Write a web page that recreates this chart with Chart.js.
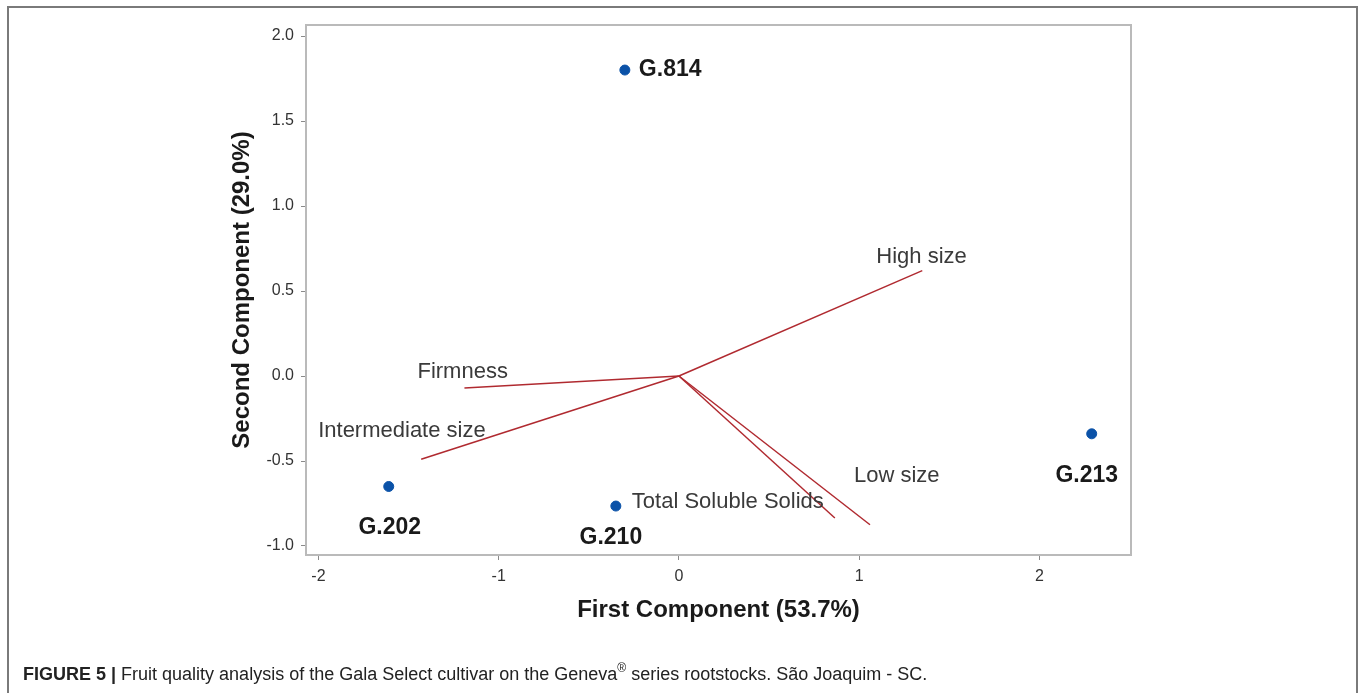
<!DOCTYPE html>
<html>
<head>
<meta charset="utf-8">
<title>Figure 5 - PCA</title>
<script src="https://cdn.jsdelivr.net/npm/chart.js@4/dist/chart.umd.min.js"></script>
<style>
  html, body { margin: 0; padding: 0; background: #fff; }
  #wrap { position: relative; width: 1360px; height: 693px; overflow: hidden; }
  #frame {
    position: absolute; left: 7px; top: 6px; width: 1347px; height: 700px;
    border-left: 2px solid #7a7a7a; border-top: 2px solid #7a7a7a; border-right: 2px solid #7a7a7a;
  }
  #chart { position: absolute; left: 0; top: 0; }
  #caption {
    position: absolute; left: 23px; top: 662px;
    font-family: "Liberation Sans", Arial, sans-serif; font-size: 18px; color: #222;
    white-space: nowrap; line-height: 24px;
  }
  #caption b { font-weight: bold; }
  #caption sup { font-size: 12px; line-height: 0; position: relative; top: -1px; }
</style>
</head>
<body>
<div id="wrap">
  <div id="frame"></div>
  <canvas id="chart" width="1360" height="693"></canvas>
  <div id="caption"><b>FIGURE 5 |</b> Fruit quality analysis of the Gala Select cultivar on the Geneva<sup>®</sup> series rootstocks. São Joaquim - SC.</div>
</div>

<script>
// ===============================
// DATOS
// ===============================
const genotypes = ["G.814", "G.213", "G.202", "G.210"];
const pc1Scores = [-0.30, 2.29, -1.61, -0.35];
const pc2Scores = [1.80, -0.34, -0.65, -0.765];

const traits = ["High size", "Firmness", "Intermediate size", "Total Soluble Solids", "Low size"];
const pc1Loadings = [1.35, -1.19, -1.43, 0.865, 1.06];
const pc2Loadings = [0.62, -0.07, -0.49, -0.835, -0.875];

const xTicks = [-2, -1, 0, 1, 2];
const yTicks = [-1.0, -0.5, 0.0, 0.5, 1.0, 1.5, 2.0];

const xTitle = "First Component (53.7%)";
const yTitle = "Second Component (29.0%)";

// pixel offsets of the text labels (style only)
const genoLabelStyle = [
  { dx: 14, dy: 0, align: "left" },
  { dx: -5, dy: 42, align: "center" },
  { dx: 1, dy: 41, align: "center" },
  { dx: -5, dy: 32, align: "center" }
];
const traitLabelStyle = [
  { dx: -46, dy: -14 },
  { dx: -47, dy: -16 },
  { dx: -103, dy: -28 },
  { dx: -203, dy: -16 },
  { dx: -16, dy: -49 }
];

const FONT = "'Liberation Sans', Arial, sans-serif";
const vectorColor = "#b02a30";
const pointColor = "#0b52a8";
const frameColor = "#bababa";

// ===============================
// DATASETS
// ===============================
const scoreData = genotypes.map((g, i) => ({ x: pc1Scores[i], y: pc2Scores[i] }));

const vectorSets = traits.map((t, i) => ({
  type: "line",
  label: t,
  data: [{ x: 0, y: 0 }, { x: pc1Loadings[i], y: pc2Loadings[i] }],
  borderColor: vectorColor,
  borderWidth: 1.5,
  pointRadius: 0,
  fill: false,
  tension: 0
}));

// ===============================
// PLUGINS
// ===============================
const framePlugin = {
  id: "frame",
  afterDraw(chart) {
    const { ctx, chartArea: a } = chart;
    ctx.save();
    ctx.strokeStyle = frameColor;
    ctx.lineWidth = 2;
    ctx.strokeRect(a.left, a.top, a.right - a.left, a.bottom - a.top);
    ctx.restore();
  }
};

const labelPlugin = {
  id: "labels",
  afterDatasetsDraw(chart) {
    const { ctx } = chart;
    const xs = chart.scales.x;
    const ys = chart.scales.y;
    ctx.save();
    ctx.textBaseline = "middle";

    // trait names
    ctx.font = "22px " + FONT;
    ctx.fillStyle = "#3a3a3a";
    ctx.textAlign = "left";
    traits.forEach((t, i) => {
      const px = xs.getPixelForValue(pc1Loadings[i]) + traitLabelStyle[i].dx;
      const py = ys.getPixelForValue(pc2Loadings[i]) + traitLabelStyle[i].dy;
      ctx.fillText(t, px, py);
    });

    // genotypes
    ctx.font = "bold 23px " + FONT;
    ctx.fillStyle = "#1a1a1a";
    genotypes.forEach((g, i) => {
      const s = genoLabelStyle[i];
      ctx.textAlign = s.align;
      const px = xs.getPixelForValue(pc1Scores[i]) + s.dx;
      const py = ys.getPixelForValue(pc2Scores[i]) + s.dy;
      ctx.fillText(g, px, py);
    });
    ctx.restore();
  }
};

// ===============================
// GRÁFICO
// ===============================
new Chart(document.getElementById("chart"), {
  type: "scatter",
  data: {
    datasets: [
      ...vectorSets,
      {
        type: "scatter",
        label: "Genotypes",
        data: scoreData,
        backgroundColor: pointColor,
        borderColor: pointColor,
        pointRadius: 5,
        pointHoverRadius: 5
      }
    ]
  },
  options: {
    responsive: false,
    animation: false,
    layout: { padding: { top: 25, right: 229, left: 0, bottom: 0 } },
    plugins: {
      legend: { display: false },
      tooltip: { enabled: false }
    },
    scales: {
      x: {
        type: "linear",
        min: -2.069,
        max: 2.508,
        afterBuildTicks: s => { s.ticks = xTicks.map(v => ({ value: v })); },
        afterFit: s => { s.height = 138; },
        ticks: {
          font: { family: FONT, size: 16 },
          color: "#333",
          padding: 7,
          callback: v => String(v)
        },
        grid: { drawOnChartArea: false, drawTicks: true, tickLength: 5, color: "#8a8a8a" },
        border: { display: true, color: frameColor, width: 2 },
        title: {
          display: true,
          text: xTitle,
          font: { family: FONT, size: 24, weight: "bold" },
          color: "#1a1a1a",
          padding: { top: 0, bottom: 68 }
        }
      },
      y: {
        type: "linear",
        min: -1.053,
        max: 2.065,
        afterBuildTicks: s => { s.ticks = yTicks.map(v => ({ value: v })); },
        afterFit: s => { s.width = 306; },
        ticks: {
          font: { family: FONT, size: 16 },
          color: "#333",
          padding: 7,
          callback: v => Number(v).toFixed(1)
        },
        grid: { drawOnChartArea: false, drawTicks: true, tickLength: 5, color: "#8a8a8a" },
        border: { display: true, color: frameColor, width: 2 },
        title: {
          display: true,
          text: yTitle,
          font: { family: FONT, size: 24, weight: "bold" },
          color: "#1a1a1a",
          padding: { top: 228, bottom: 0 }
        }
      }
    }
  },
  plugins: [framePlugin, labelPlugin]
});
</script>
</body>
</html>
